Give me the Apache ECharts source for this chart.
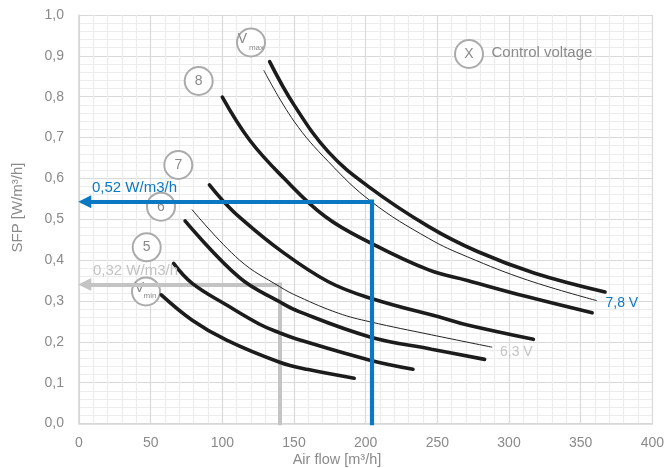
<!DOCTYPE html>
<html>
<head>
<meta charset="utf-8">
<script src="https://cdn.jsdelivr.net/npm/echarts@6/dist/echarts.min.js"></script>
<style>
html,body{margin:0;padding:0;background:#fff;}
#chart{width:667px;height:468px;}
</style>
</head>
<body>
<div id="chart"></div>
<script>
// ---- data (air flow m3/h, SFP W/m3/h) ----
const curveVmax = [[133,0.886],[150,0.78],[174,0.665],[202,0.58],[244,0.482],[278,0.421],[318,0.368],[367,0.322]];
const curve78   = [[129,0.864],[150,0.74],[174,0.641],[204,0.543],[244,0.453],[271,0.408],[313,0.351],[361,0.301]];
const curve8    = [[100,0.799],[119,0.694],[142,0.604],[172,0.506],[204,0.441],[244,0.376],[271,0.35],[313,0.31],[358,0.271]];
const curve7    = [[91,0.584],[101,0.543],[112,0.505],[140,0.425],[174,0.347],[204,0.306],[255,0.257],[271,0.241],[317,0.206]];
const curve63   = [[79,0.523],[112,0.40],[140,0.335],[153.5,0.31],[181,0.27],[203,0.249],[246,0.217],[288,0.187]];
const curve6    = [[74,0.496],[112,0.357],[140,0.298],[153.5,0.274],[203,0.212],[246,0.182],[283,0.157]];
const curve5    = [[66,0.392],[79,0.343],[103,0.29],[126,0.243],[140,0.222],[153.5,0.205],[203,0.155],[233,0.133]];
const curveVmin = [[57.4,0.315],[79,0.253],[103,0.204],[140,0.15],[160,0.132],[192,0.111]];

const blueFlow = 204, blueSFP = 0.543;
const grayFlow = 140, graySFP = 0.34;
const arrowEndFlow = 4;

const xTicks = [0,50,100,150,200,250,300,350,400];
const yTicks = ['0,0','0,1','0,2','0,3','0,4','0,5','0,6','0,7','0,8','0,9','1,0'];

// ---- chart ----
const chart = echarts.init(document.getElementById('chart'), null, {renderer:'canvas'});
const FONT = '"Liberation Sans", Arial, Helvetica, sans-serif';
const LABEL = '#8a8a8a';
const BLUE = '#0a78c2';
const GRAYL = '#c4c4c4';
const CIRC = '#ababab';

function thick(data){
  return {type:'line', data:data, smooth:0.4, symbol:'none', z:3,
    lineStyle:{color:'#1c1c1c', width:3.6, cap:'round'}};
}
function thin(data){
  return {type:'line', data:data, smooth:0.4, symbol:'none', z:3,
    lineStyle:{color:'#222', width:1, cap:'round'}};
}

function circle(cx, cy, z){
  return {type:'circle', shape:{cx:cx, cy:cy, r:14}, z:z||1,
    style:{fill:'#fff', stroke:CIRC, lineWidth:2}};
}
function txt(x, y, s, size, color, align, z, rot){
  return {type:'text', x:x, y:y, z:z||6, rotation:rot||0,
    style:{text:s, fill:color, font:size+'px '+FONT, textAlign:align||'left', textVerticalAlign:'middle'}};
}

const option = {
  animation:false,
  backgroundColor:'#fff',
  grid:{left:79, right:12, top:15, bottom:44.5, containLabel:false},
  xAxis:{
    type:'value', min:0, max:400, interval:50,
    axisLine:{show:true, lineStyle:{color:'#d6d6d6', width:1.5}},
    axisTick:{show:false},
    axisLabel:{color:LABEL, fontSize:14, fontFamily:FONT, margin:13,
      formatter:function(v){ return xTicks.indexOf(v) >= 0 ? String(v) : ''; }},
    splitLine:{show:true, lineStyle:{color:'#d9d9d9', width:1.2}},
    minorTick:{show:false, splitNumber:5},
    minorSplitLine:{show:true, lineStyle:{color:'#ececec', width:1.2}}
  },
  yAxis:{
    type:'value', min:0, max:1, interval:0.1,
    axisLine:{show:true, lineStyle:{color:'#d6d6d6', width:1.5}},
    axisTick:{show:false},
    axisLabel:{color:LABEL, fontSize:14, fontFamily:FONT, margin:15,
      formatter:function(v){ return yTicks[Math.round(v*10)]; }},
    splitLine:{show:true, lineStyle:{color:'#d9d9d9', width:1.2}},
    minorTick:{show:false, splitNumber:5},
    minorSplitLine:{show:true, lineStyle:{color:'#ececec', width:1.2}}
  },
  series:[
    // gray reference lines (below curves)
    {type:'lines', coordinateSystem:'cartesian2d', z:2, symbol:['none','none'],
      lineStyle:{color:GRAYL, width:4, opacity:1, cap:'square'},
      data:[{coords:[[grayFlow,0],[grayFlow,graySFP]]}]},
    {type:'lines', coordinateSystem:'cartesian2d', z:2, symbol:['none','triangle'], symbolSize:13,
      lineStyle:{color:GRAYL, width:4, opacity:1, cap:'square'},
      data:[{coords:[[grayFlow,graySFP],[arrowEndFlow,graySFP]]}]},
    thick(curveVmax), thin(curve78), thick(curve8), thick(curve7),
    thin(curve63), thick(curve6), thick(curve5), thick(curveVmin),
    // blue reference lines (above curves)
    {type:'lines', coordinateSystem:'cartesian2d', z:4, symbol:['none','none'],
      lineStyle:{color:BLUE, width:4.2, opacity:1, cap:'square'},
      data:[{coords:[[blueFlow,0],[blueFlow,blueSFP]]}]},
    {type:'lines', coordinateSystem:'cartesian2d', z:4, symbol:['none','triangle'], symbolSize:13,
      lineStyle:{color:BLUE, width:4.2, opacity:1, cap:'square'},
      data:[{coords:[[blueFlow,blueSFP],[arrowEndFlow,blueSFP]]}]}
  ],
  graphic:[
    circle(251,42.5), txt(242.5,39,'V',14,LABEL,'center',2), txt(256.5,47.5,'max',8,LABEL,'center',2),
    circle(198.7,81), txt(198.7,81,'8',14,LABEL,'center',2),
    circle(178.3,165), txt(178.3,165,'7',14,LABEL,'center',2),
    circle(161,206.7), txt(161,206.7,'6',14,LABEL,'center',2),
    circle(146.7,247.3), txt(146.7,247.3,'5',14,LABEL,'center',2),
    circle(146,291.5), txt(139.5,288.5,'V',14,LABEL,'center',2), txt(150,296,'min',8,LABEL,'center',2),
    circle(469,54), txt(469,54,'X',14,LABEL,'center',2),
    txt(491.5,53.3,'Control voltage',15,LABEL,'left',6),
    txt(92,188.3,'0,52 W/m3/h',15,BLUE,'left',6),
    txt(93,271,'0,32 W/m3/h',15,GRAYL,'left',6),
    txt(605.5,302.7,'7,8 V',14,BLUE,'left',6),
    txt(500,351.7,'6,3 V',14,GRAYL,'left',6),
    txt(337,460,'Air flow [m³/h]',14.5,LABEL,'center',6),
    txt(18,207.5,'SFP [W/m³/h]',15,LABEL,'center',6,Math.PI/2)
  ]
};
chart.setOption(option);
</script>
</body>
</html>
